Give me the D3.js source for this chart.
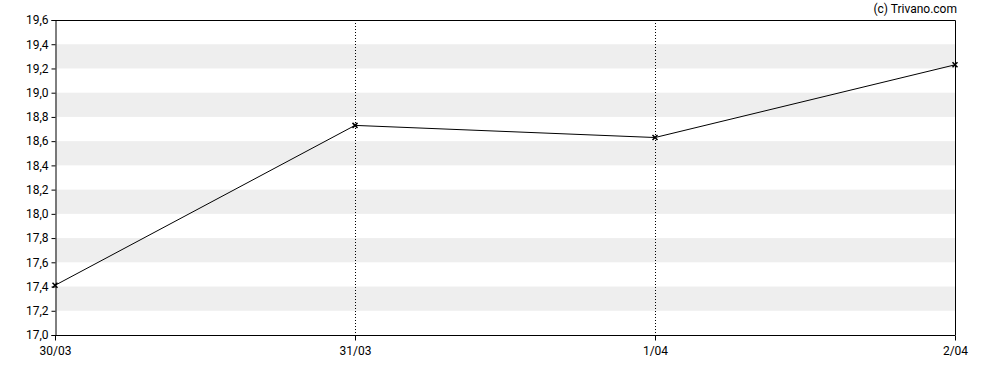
<!DOCTYPE html>
<html><head><meta charset="utf-8">
<script src="https://cdn.jsdelivr.net/npm/d3@7"></script>
<style>body{margin:0;background:#fff}svg{display:block}text{font-family:Roboto,"DejaVu Sans",sans-serif}</style>
</head><body><svg id="c" width="988" height="370"></svg>
<script>
const dates = ["30/03","31/03","1/04","2/04"];
const values = [17.41, 18.73, 18.63, 19.23];
const yTicks = [17.0,17.2,17.4,17.6,17.8,18.0,18.2,18.4,18.6,18.8,19.0,19.2,19.4,19.6];

const svg = d3.select("#c");
const L=55, R=955, T=20, B=335;
const x = d3.scalePoint().domain(dates).range([L,R]);
const y = d3.scaleLinear().domain([17.0,19.6]).range([B,T]);
const fmt = v => v.toFixed(1).replace(".", ",");

// bands
const bands = [];
for (let i=1;i<yTicks.length-1;i+=2) bands.push([yTicks[i], yTicks[i+1]]);
svg.append("g").selectAll("rect").data(bands).join("rect")
  .attr("x",L).attr("width",R-L)
  .attr("y",d=>y(d[1])).attr("height",d=>y(d[0])-y(d[1]))
  .attr("fill","#eeeeee");

// vertical dotted lines
svg.append("g").selectAll("line").data(dates.slice(1,-1)).join("line")
  .attr("x1",d=>Math.round(x(d))+0.5).attr("x2",d=>Math.round(x(d))+0.5)
  .attr("y1",T).attr("y2",B)
  .attr("stroke","#000").attr("stroke-dasharray","1,2");

// frame top/right
svg.append("path").attr("d",`M${L},${T+0.5}H${R+0.5}V${B}`).attr("fill","none").attr("stroke","#000");

// axes
const ya = svg.append("g").attr("transform",`translate(${L+0.5},0)`)
  .call(d3.axisLeft(y).tickValues(yTicks).tickFormat(fmt).tickSize(4).tickPadding(3));
const xa = svg.append("g").attr("transform",`translate(0,${B+0.5})`)
  .call(d3.axisBottom(x).tickSize(5).tickPadding(6));
[ya,xa].forEach(g=>{
  g.selectAll("text").attr("font-size",12).attr("fill","#000").style("font-family","Roboto, sans-serif");
  g.select(".domain").attr("stroke","#000");
  g.selectAll(".tick line").attr("stroke","#000");
});
xa.select(".domain").attr("d",`M${L},0H${R+0.5}`);

// line
const pts = dates.map((d,i)=>[x(d), y(values[i])]);
svg.append("path").attr("d",d3.line()(pts)).attr("fill","none").attr("stroke","#000").attr("stroke-width",1);
svg.append("g").selectAll("path").data(pts).join("path")
  .attr("d",d=>`M${d[0]-2.5},${d[1]-2.5}L${d[0]+2.5},${d[1]+2.5}M${d[0]-2.5},${d[1]+2.5}L${d[0]+2.5},${d[1]-2.5}`)
  .attr("stroke","#000").attr("stroke-width",1.5);

svg.append("text").attr("x",957).attr("y",13).attr("text-anchor","end")
  .attr("font-size",12).attr("fill","#000").text("(c) Trivano.com");
</script></body></html>
